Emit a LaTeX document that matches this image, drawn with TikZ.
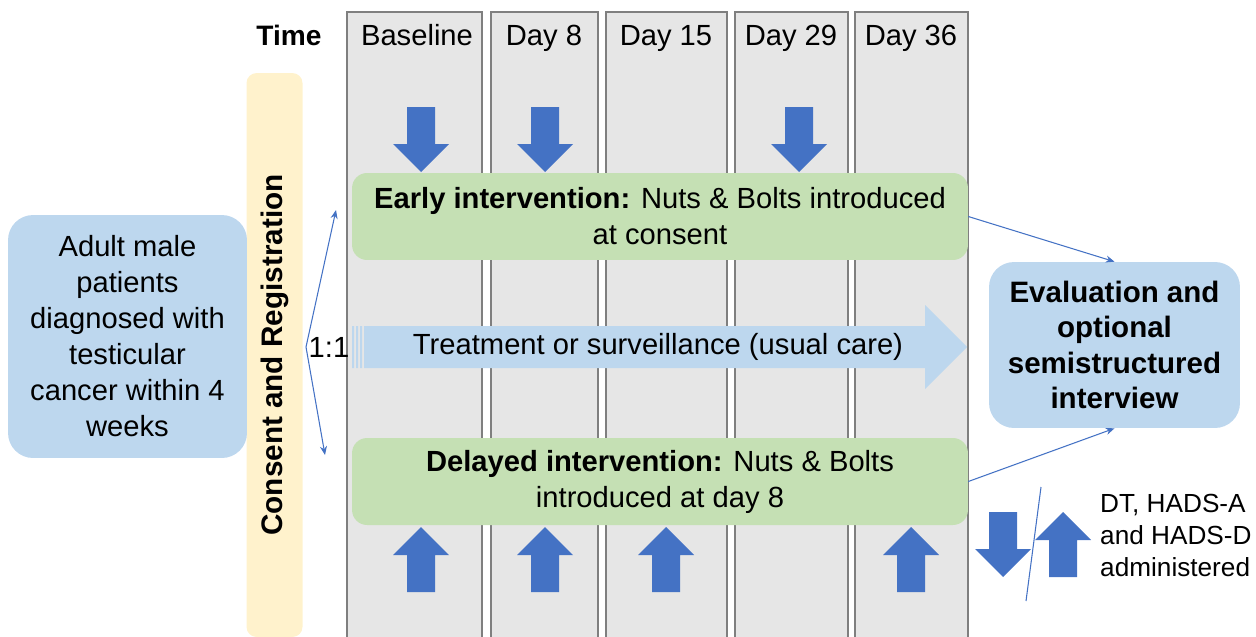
\documentclass[tikz,border=0pt]{standalone}
\usepackage{fontspec}
\setmainfont{Liberation Sans}
\usetikzlibrary{arrows.meta}

\definecolor{colgray}{HTML}{E6E6E6}
\definecolor{edgegray}{HTML}{7F7F7F}
\definecolor{greenbox}{HTML}{C5E0B4}
\definecolor{bluebox}{HTML}{BDD7EE}
\definecolor{yellowbox}{HTML}{FFF2CC}
\definecolor{darkblue}{HTML}{4472C4}

\tikzset{
  dnarr/.pic={\fill[darkblue] (-14,0) -- (14,0) -- (14,37) -- (28,37) -- (0,65) -- (-28,37) -- (-14,37) -- cycle;},
  uparr/.pic={\fill[darkblue] (-14,65) -- (14,65) -- (14,28) -- (28,28) -- (0,0) -- (-28,28) -- (-14,28) -- cycle;},
  link/.style={draw=darkblue, line width=0.6pt, -{Stealth[length=5pt,width=4pt]}},
  greenbx/.style={fill=greenbox, rounded corners=0.3cm, minimum width=12.32cm, minimum height=1.74cm, align=center},
  bluebx/.style={fill=bluebox, rounded corners=0.5cm, align=center},
  colhead/.style={anchor=base}
}

\begin{document}
\begin{tikzpicture}[x=0.02cm,y=-0.02cm, font=\fontsize{16.6}{20.5}\selectfont]

      \clip (0,0) rectangle (1256,636);

      % time columns
      \begin{scope}[draw=edgegray, fill=colgray, line width=0.6pt]
        \filldraw (347,12) rectangle (482,660);
        \filldraw (491,12) rectangle (598,660);
        \filldraw (606,12) rectangle (727,660);
        \filldraw (735,12) rectangle (848,660);
        \filldraw (855,12) rectangle (968,660);
      \end{scope}

      \node[colhead] (time) at (289,45) {\fontsize{16}{19}\selectfont\bfseries Time};
      \node[colhead] (base) at (417,45) {Baseline};
      \node[colhead] (d8)   at (544,45) {Day 8};
      \node[colhead] (d15)  at (666,45) {Day 15};
      \node[colhead] (d29)  at (791,45) {Day 29};
      \node[colhead] (d36)  at (911,45) {Day 36};

      \node[fill=yellowbox, rounded corners=0.2cm, rotate=90, minimum width=11.28cm, minimum height=1.12cm, font=\fontsize{16.9}{20}\selectfont\bfseries] (consent) at (274.5,355) {Consent and Registration};

      \node[bluebx, minimum width=4.78cm, minimum height=4.86cm] (patients) at (127.5,336.5)
        {Adult male\\patients\\diagnosed with\\testicular\\cancer within 4\\weeks};

      \node[greenbx] (early) at (660,216.5) {\textbf{Early intervention:} Nuts \& Bolts introduced\\at consent};
      \node[greenbx] (delayed) at (660,481.5) {\textbf{Delayed intervention:} Nuts \& Bolts\\introduced at day 8};

      % usual care arrow
      \fill[bluebox] (352,326) rectangle (354,368) (356,326) rectangle (358,368) (360,326) rectangle (362,368);
      \fill[bluebox] (364,326) -- (925,326) -- (925,305) -- (967,347) -- (925,389) -- (925,368) -- (364,368) -- cycle;
      \node (usual) at (658,347) {Treatment or surveillance (usual care)};

      \node[bluebx, minimum width=5.02cm, minimum height=3.32cm, font=\fontsize{16.8}{20}\selectfont\bfseries] (eval) at (1114.5,345)
        {Evaluation and\\optional\\semistructured\\interview};

      % randomisation
      \node (ratio) at (329,347) {1:1};
      \coordinate (split) at (306,347);
      \coordinate (toearly) at (336,210);
      \coordinate (todelayed) at (325,455);
      \draw[link] (split) -- (toearly);
      \draw[link] (split) -- (todelayed);

      \draw[link] (early.east) -- (eval.north);
      \draw[link] (delayed.east) -- (eval.south);

      % questionnaires
      \pic at (421,107) {dnarr};
      \pic at (545,107) {dnarr};
      \pic at (799,107) {dnarr};
      \pic at (421,527) {uparr};
      \pic at (545,527) {uparr};
      \pic at (666,527) {uparr};
      \pic at (911,527) {uparr};

      % legend
      \pic at (1003,512) {dnarr};
      \pic at (1063,512) {uparr};
      \coordinate (slashtop) at (1041,487);
      \coordinate (slashbot) at (1026,601);
      \draw[darkblue, line width=0.6pt] (slashtop) -- (slashbot);
      \node[align=left, anchor=west, font=\fontsize{14.9}{18.2}\selectfont] (legend) at (1094,535) {DT, HADS-A\\and HADS-D\\administered};

\end{tikzpicture}
\end{document}
